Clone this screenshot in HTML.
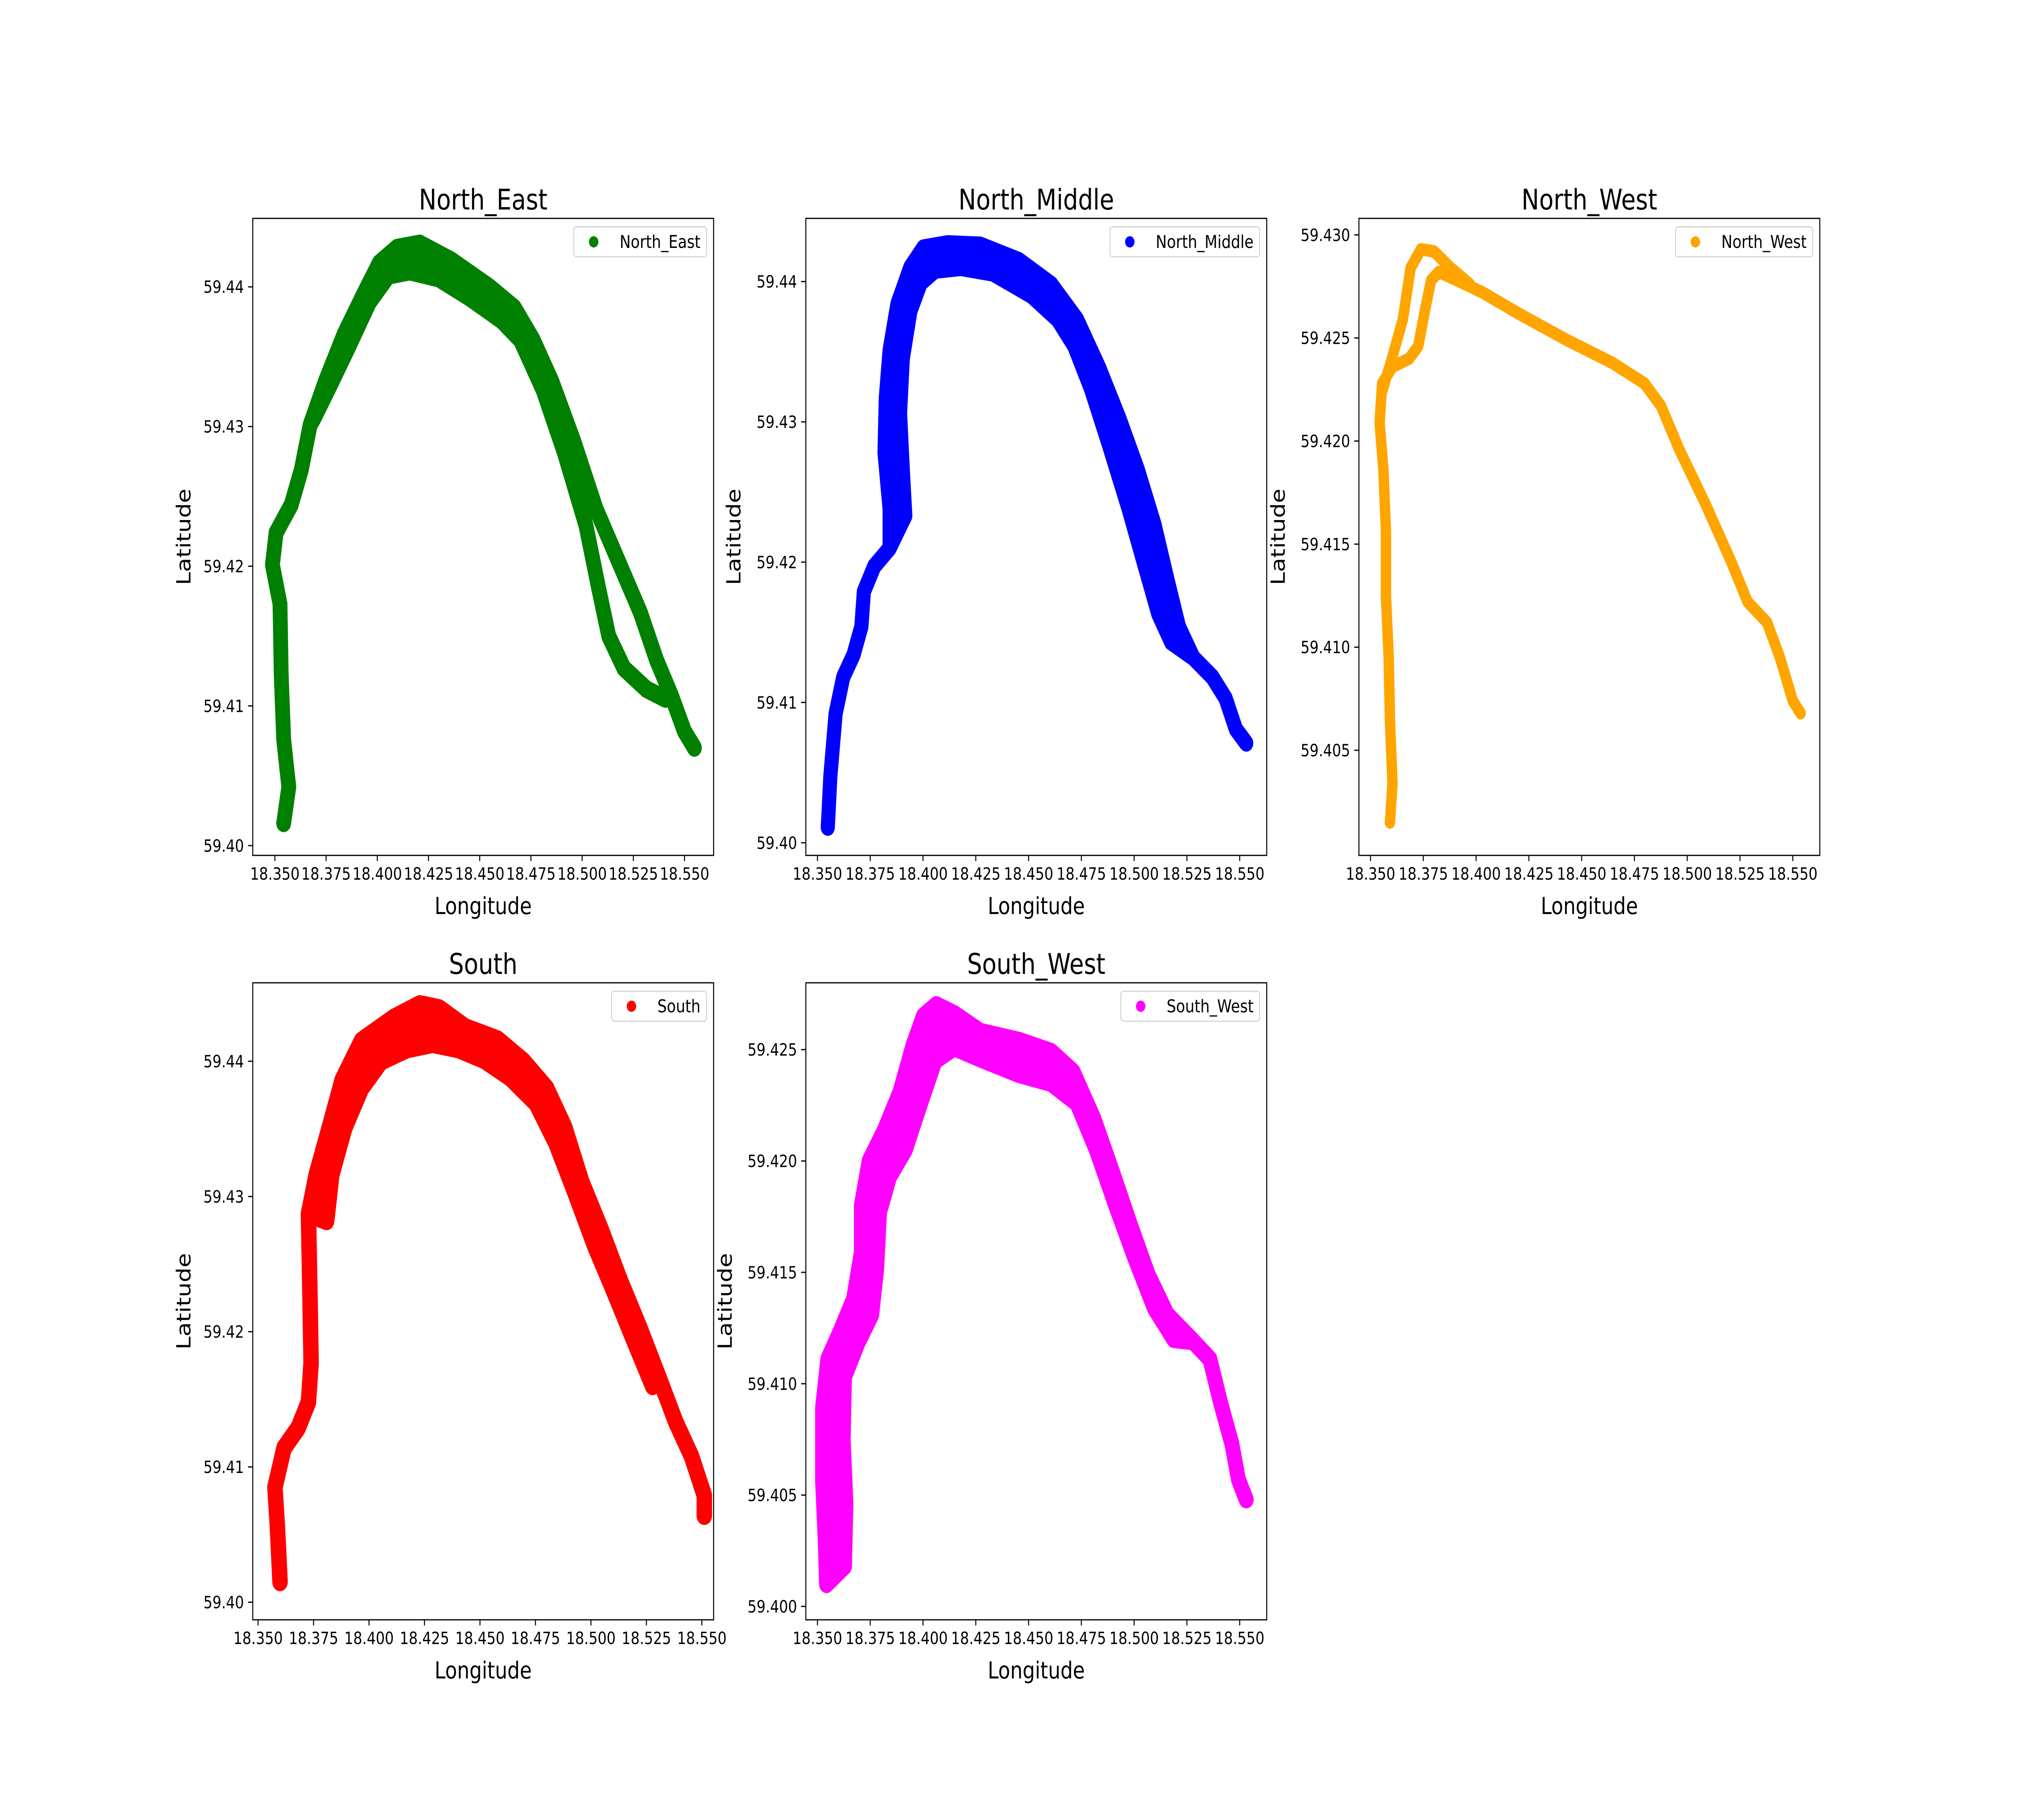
<!DOCTYPE html>
<html><head><meta charset="utf-8"><style>
html,body{margin:0;padding:0;background:#fff;width:100%;height:100%;overflow:hidden}
svg{display:block;width:100vw;height:100vh}
text{font-family:"DejaVu Sans","Liberation Sans",sans-serif;fill:#000}
</style></head><body>
<svg id="fig" xmlns="http://www.w3.org/2000/svg" viewBox="0 0 6000 4500" preserveAspectRatio="none"></svg>
<script>
// ---- data (lon / lat) ----
const neMainLon=[18.3543,18.3568,18.3543,18.3531,18.3525,18.3488,18.3506,18.3580,18.3629,18.3672,18.3746,18.3838,18.3931,18.4010,18.4097,18.4207,18.4361,18.4546,18.4669,18.4761,18.4853,18.4958,18.5068,18.5179,18.5284,18.5363,18.5437,18.5499,18.5548];
const neMainLat=[59.4016,59.4042,59.4076,59.4122,59.4173,59.4201,59.4224,59.4244,59.4269,59.4301,59.4332,59.4366,59.4394,59.4417,59.4428,59.4431,59.4419,59.4400,59.4385,59.4362,59.4332,59.4290,59.4241,59.4203,59.4167,59.4133,59.4107,59.4082,59.4070];
const neInnerLon=[18.3691,18.3765,18.3863,18.3961,18.4054,18.4158,18.4300,18.4453,18.4607,18.4699,18.4810,18.4914,18.5019,18.5081,18.5130,18.5204,18.5314,18.5407];
const neInnerLat=[59.4306,59.4328,59.4358,59.4389,59.4408,59.4411,59.4406,59.4392,59.4376,59.4362,59.4326,59.4281,59.4229,59.4184,59.4150,59.4127,59.4112,59.4105];

const nmOuterLon=[18.3549,18.3561,18.3586,18.3622,18.3671,18.3708,18.3720,18.3769,18.3842,18.3842,18.3818,18.3824,18.3842,18.3879,18.3940,18.4002,18.4118,18.4271,18.4454,18.4607,18.4729,18.4833,18.4931,18.5017,18.5096,18.5157,18.5212,18.5280,18.5371,18.5433,18.5482,18.5531];
const nmOuterLat=[59.4011,59.4047,59.4092,59.4118,59.4134,59.4154,59.4179,59.4197,59.4210,59.4238,59.4278,59.4317,59.4351,59.4384,59.4410,59.4424,59.4427,59.4426,59.4415,59.4398,59.4373,59.4339,59.4302,59.4266,59.4227,59.4188,59.4154,59.4132,59.4118,59.4103,59.4081,59.4071];
const nmInnerLon=[18.3916,18.3904,18.3891,18.3904,18.3940,18.3989,18.4057,18.4179,18.4332,18.4515,18.4638,18.4717,18.4797,18.4882,18.4974,18.5047,18.5115,18.5176];
const nmInnerLat=[59.4233,59.4266,59.4306,59.4345,59.4379,59.4399,59.4408,59.4410,59.4406,59.4390,59.4373,59.4354,59.4323,59.4283,59.4238,59.4199,59.4163,59.4143];

const nwMainLon=[18.3592,18.3604,18.3592,18.3586,18.3573,18.3573,18.3561,18.3543,18.3555,18.3604,18.3683,18.3726,18.3757,18.3787,18.3824,18.3910,18.4032,18.4216,18.4430,18.4644,18.4797,18.4876,18.4962,18.5084,18.5206,18.5286,18.5378,18.5439,18.5500,18.5537];
const nwMainLat=[59.4015,59.4034,59.4064,59.4095,59.4125,59.4156,59.4186,59.4209,59.4228,59.4236,59.4240,59.4246,59.4263,59.4278,59.4282,59.4278,59.4272,59.4261,59.4249,59.4238,59.4228,59.4217,59.4196,59.4170,59.4142,59.4122,59.4112,59.4095,59.4074,59.4068];
const nwLoopLon=[18.3555,18.3604,18.3653,18.3690,18.3739,18.3800,18.3879,18.3971];
const nwLoopLat=[59.4224,59.4241,59.4259,59.4284,59.4293,59.4292,59.4284,59.4276];

const sOuterLon=[18.3599,18.3587,18.3576,18.3617,18.3681,18.3727,18.3739,18.3733,18.3727,18.3762,18.3821,18.3879,18.3966,18.4112,18.4229,18.4316,18.4433,18.4579,18.4695,18.4800,18.4882,18.4958,18.5045,18.5132,18.5220,18.5307,18.5383,18.5453,18.5511,18.5511];
const sOuterLat=[59.4015,59.4056,59.4085,59.4114,59.4129,59.4148,59.4177,59.4235,59.4287,59.4316,59.4351,59.4386,59.4415,59.4432,59.4442,59.4439,59.4425,59.4416,59.4400,59.4380,59.4351,59.4311,59.4276,59.4238,59.4203,59.4166,59.4133,59.4108,59.4079,59.4064];
const sInnerLon=[18.3809,18.3832,18.3891,18.3966,18.4054,18.4170,18.4287,18.4404,18.4520,18.4637,18.4753,18.4841,18.4928,18.5016,18.5103,18.5190,18.5278];
const sInnerLat=[59.4282,59.4316,59.4351,59.4380,59.4400,59.4409,59.4413,59.4409,59.4401,59.4388,59.4369,59.4340,59.4303,59.4264,59.4230,59.4195,59.4160];

const swOuterLon=[18.3543,18.3537,18.3524,18.3524,18.3549,18.3610,18.3671,18.3708,18.3708,18.3745,18.3818,18.3891,18.3953,18.4002,18.4063,18.4148,18.4271,18.4454,18.4607,18.4711,18.4809,18.4894,18.4980,18.5066,18.5157,18.5280,18.5359,18.5408,18.5463,18.5494,18.5531];
const swOuterLat=[59.4010,59.4029,59.4057,59.4089,59.4111,59.4124,59.4138,59.4159,59.4180,59.4200,59.4214,59.4231,59.4252,59.4265,59.4270,59.4266,59.4258,59.4254,59.4249,59.4240,59.4219,59.4196,59.4172,59.4149,59.4131,59.4119,59.4111,59.4092,59.4073,59.4057,59.4048];
const swInnerLon=[18.3628,18.3635,18.3622,18.3628,18.3690,18.3757,18.3781,18.3794,18.3842,18.3916,18.3989,18.4057,18.4148,18.4271,18.4454,18.4607,18.4729,18.4821,18.4913,18.5005,18.5096,18.5188];
const swInnerLat=[59.4018,59.4046,59.4075,59.4103,59.4118,59.4131,59.4152,59.4177,59.4193,59.4205,59.4226,59.4245,59.4251,59.4246,59.4239,59.4235,59.4226,59.4205,59.4180,59.4156,59.4134,59.4120];

const xTicks=[18.350,18.375,18.400,18.425,18.450,18.475,18.500,18.525,18.550];
const yTicksA=[59.40,59.41,59.42,59.43,59.44];
const yTicksNW=[59.405,59.410,59.415,59.420,59.425,59.430];
const yTicksSW=[59.400,59.405,59.410,59.415,59.420,59.425];

const NS='http://www.w3.org/2000/svg';
const svg=document.getElementById('fig');
function mk(tag,attrs,parent){const e=document.createElementNS(NS,tag);for(const k in attrs)e.setAttribute(k,attrs[k]);(parent||svg).appendChild(e);return e;}

const W=1367.6,H=1575;
const panels=[
 {key:'north-east',title:'North_East',color:'#008000',x0:750,y0:540,xl:[18.3392,18.5642],yl:[59.3993,59.4449],yt:yTicksA,yd:2,ylOff:185,sw:44,
  lines:[[neMainLon,neMainLat],[neInnerLon,neInnerLat]],band:[neMainLon,neMainLat,9,19,neInnerLon,neInnerLat,0,10]},
 {key:'north-middle',title:'North_Middle',color:'#0000ff',x0:2391.2,y0:540,xl:[18.3445,18.5628],yl:[59.3991,59.4445],yt:yTicksA,yd:2,ylOff:194,sw:42,
  lines:[[nmOuterLon,nmOuterLat],[nmInnerLon,nmInnerLat]],band:[nmOuterLon,nmOuterLat,8,28,nmInnerLon,nmInnerLat,0,18]},
 {key:'north-west',title:'North_West',color:'#ffa500',x0:4032.4,y0:540,xl:[18.3445,18.5628],yl:[59.3999,59.4308],yt:yTicksNW,yd:3,ylOff:220,sw:31,
  lines:[[nwMainLon,nwMainLat],[nwLoopLon,nwLoopLat]],band:null},
 {key:'south',title:'South',color:'#ff0000',x0:750,y0:2430,xl:[18.3476,18.5553],yl:[59.3987,59.4458],yt:yTicksA,yd:2,ylOff:185,sw:46,
  lines:[[sOuterLon,sOuterLat],[sInnerLon,sInnerLat]],band:[sOuterLon,sOuterLat,8,25,sInnerLon,sInnerLat,0,17]},
 {key:'south-west',title:'South_West',color:'#ff00ff',x0:2391.2,y0:2430,xl:[18.3445,18.5628],yl:[59.3994,59.4280],yt:yTicksSW,yd:3,ylOff:220,sw:44,
  lines:[[swOuterLon,swOuterLat],[swInnerLon,swInnerLat]],band:[swOuterLon,swOuterLat,0,26,swInnerLon,swInnerLat,0,22]}
];

panels.forEach(p=>{
  const g=mk('g',{});
  
  
  const sx=v=>p.x0+(v-p.xl[0])/(p.xl[1]-p.xl[0])*W;
  const sy=v=>p.y0+H-(v-p.yl[0])/(p.yl[1]-p.yl[0])*H;
  const clipId='clip-'+p.key;
  const cp=mk('clipPath',{id:clipId},g);
  mk('rect',{x:p.x0,y:p.y0,width:W,height:H},cp);
  const plot=mk('g',{'clip-path':'url(#'+clipId+')'},g);
  
  
  if(p.band){
    const [aLon,aLat,a0,a1,bLon,bLat,b0,b1]=p.band;
    const pts=[];
    for(let i=a0;i<a1;i++)pts.push(sx(aLon[i])+','+sy(aLat[i]));
    for(let i=b1-1;i>=b0;i--)pts.push(sx(bLon[i])+','+sy(bLat[i]));
    const poly=mk('polygon',{points:pts.join(' '),fill:p.color,stroke:p.color,'stroke-width':p.sw,'stroke-linejoin':'round'},plot);
    
    
  }
  p.lines.forEach((ln,li)=>{
    const pts=ln[0].map((v,i)=>sx(v)+','+sy(ln[1][i])).join(' ');
    const pl=mk('polyline',{points:pts,fill:'none',stroke:p.color,'stroke-width':p.sw,'stroke-linejoin':'round','stroke-linecap':'round'},plot);
    
    
  });
  const frame=mk('rect',{x:p.x0,y:p.y0,width:W,height:H,fill:'none',stroke:'#000','stroke-width':3},g);
  
  
  xTicks.forEach(t=>{
    const x=sx(t);
    mk('line',{x1:x,x2:x,y1:p.y0+H,y2:p.y0+H+14,stroke:'#000','stroke-width':3},g);
    const tx=mk('text',{x:x,y:p.y0+H+60,'font-size':42,'text-anchor':'middle'},g);
    tx.textContent=t.toFixed(3);
    
    
  });
  p.yt.forEach(t=>{
    const y=sy(t);
    mk('line',{x1:p.x0-14,x2:p.x0,y1:y,y2:y,stroke:'#000','stroke-width':3},g);
    const tx=mk('text',{x:p.x0-26,y:y+15,'font-size':42,'text-anchor':'end'},g);
    tx.textContent=t.toFixed(p.yd);
    
    
  });
  const ti=mk('text',{x:p.x0+W/2,y:p.y0-22,'font-size':70,'text-anchor':'middle'},g);
  ti.textContent=p.title;
  
  
  const xl=mk('text',{x:p.x0+W/2,y:p.y0+H+145,'font-size':58,'text-anchor':'middle'},g);
  xl.textContent='Longitude';
  
  
  const yx=p.x0-p.ylOff, yy=p.y0+H/2;
  const yl=mk('text',{x:yx,y:yy,'font-size':58,'text-anchor':'middle',transform:'rotate(-90 '+yx+' '+yy+')'},g);
  yl.textContent='Latitude';
  
  
  const lg=mk('g',{},g);
  
  
  const box=mk('rect',{x:0,y:p.y0+21,width:10,height:74,rx:8,fill:'#fff','fill-opacity':0.8,stroke:'#d5d5d5','stroke-width':3},lg);
  const lt=mk('text',{x:0,y:p.y0+73,'font-size':44},lg);
  lt.textContent=p.title;
  let tw=lt.getComputedTextLength();
  if(!tw||tw<10)tw=p.title.length*27;
  const right=p.x0+W-21, left=right-(tw+136+18);
  box.setAttribute('x',left);box.setAttribute('width',right-left);
  lt.setAttribute('x',left+136);
  const mc=mk('circle',{cx:left+59,cy:p.y0+58,r:14,fill:p.color},lg);
  
  
});
</script>
</body></html>
